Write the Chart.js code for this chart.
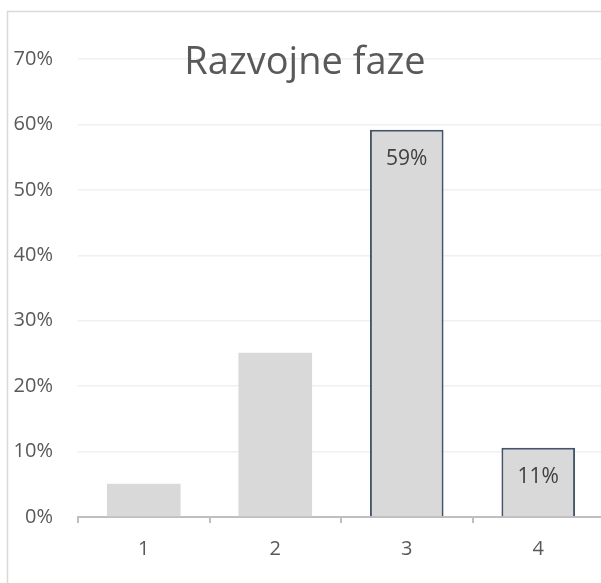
<!DOCTYPE html>
<html lang="hr">
<head>
    <meta charset="UTF-8">
    <title>Razvojne faze</title>
    <script src="https://cdn.jsdelivr.net/npm/chart.js"></script>
    <style>
        body {
            margin: 0;
            background-color: #ffffff;
            overflow: hidden;
        }
        canvas {
            display: block;
        }
    </style>
</head>
<body>
    <canvas id="phaseChart" width="620" height="583"></canvas>
    <script>
        const categories = ['1', '2', '3', '4'];
        const shares = [5.1, 25.1, 59.2, 10.6];
        const valueLabels = ['', '', '59%', '11%'];
        const outlined = [false, false, true, true];
        const yTicks = [0, 10, 20, 30, 40, 50, 60, 70];

        const chartTitle = 'Razvojne faze';
        const fontFamily = "'Open Sans', 'Noto Sans', sans-serif";

        // okvir grafikona (lijevi i gornji rub)
        const framePlugin = {
            id: 'frame',
            beforeDraw(chart) {
                const ctx = chart.ctx;
                ctx.save();
                ctx.strokeStyle = '#d9d9d9';
                ctx.lineWidth = 1.5;
                ctx.beginPath();
                ctx.moveTo(7.5, chart.height);
                ctx.lineTo(7.5, 11.5);
                ctx.lineTo(chart.width, 11.5);
                ctx.stroke();
                ctx.restore();
            }
        };

        const titlePlugin = {
            id: 'innerTitle',
            afterDraw(chart) {
                const ctx = chart.ctx;
                ctx.save();
                ctx.font = '38px ' + fontFamily;
                ctx.fillStyle = '#595959';
                ctx.textAlign = 'center';
                ctx.textBaseline = 'alphabetic';
                ctx.fillText(chartTitle, 305, 74);
                ctx.restore();
            }
        };

        const valueLabelPlugin = {
            id: 'valueLabels',
            afterDatasetsDraw(chart) {
                const ctx = chart.ctx;
                const meta = chart.getDatasetMeta(0);
                ctx.save();
                ctx.font = '21px ' + fontFamily;
                ctx.fillStyle = '#404040';
                ctx.textAlign = 'center';
                ctx.textBaseline = 'middle';
                meta.data.forEach((bar, i) => {
                    if (valueLabels[i]) {
                        ctx.fillText(valueLabels[i], bar.x, bar.y + 29);
                    }
                });
                ctx.restore();
            }
        };

        const ctx = document.getElementById('phaseChart').getContext('2d');
        new Chart(ctx, {
            type: 'bar',
            data: {
                labels: categories,
                datasets: [{
                    data: shares,
                    backgroundColor: '#d9d9d9',
                    borderColor: '#44546a',
                    borderWidth: outlined.map(o => o ? 2 : 0),
                    categoryPercentage: 1,
                    barPercentage: 0.56
                }]
            },
            options: {
                responsive: false,
                animation: false,
                layout: {
                    padding: { top: 59, right: 16, left: 0, bottom: 0 }
                },
                plugins: {
                    legend: { display: false },
                    title: { display: false },
                    tooltip: { enabled: false }
                },
                scales: {
                    x: {
                        grid: {
                            drawOnChartArea: false,
                            drawTicks: true,
                            tickLength: 6,
                            color: '#bfbfbf',
                            lineWidth: 2
                        },
                        border: { color: '#bfbfbf', width: 2 },
                        ticks: {
                            color: '#595959',
                            font: { family: fontFamily, size: 20 },
                            padding: 14
                        },
                        afterFit(scale) {
                            scale.height = 66;
                        }
                    },
                    y: {
                        min: 0,
                        max: 70,
                        afterBuildTicks(scale) {
                            scale.ticks = yTicks.map(v => ({ value: v }));
                        },
                        grid: {
                            color: '#f0f0f0',
                            lineWidth: 1.5,
                            drawTicks: false
                        },
                        border: { display: false },
                        ticks: {
                            color: '#595959',
                            font: { family: fontFamily, size: 20 },
                            padding: 25,
                            callback: v => v + '%'
                        },
                        afterFit(scale) {
                            scale.width = 78;
                        }
                    }
                }
            },
            plugins: [framePlugin, titlePlugin, valueLabelPlugin]
        });
    </script>
</body>
</html>
